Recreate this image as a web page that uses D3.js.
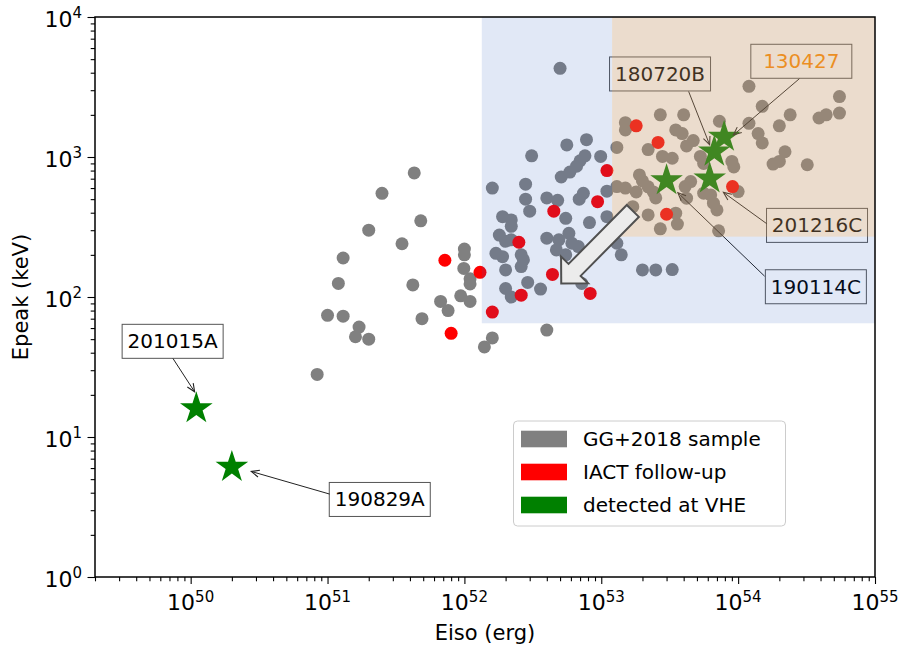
<!DOCTYPE html>
<html><head><meta charset="utf-8">
<script src="https://cdn.jsdelivr.net/npm/d3@7"></script>
<style>body{margin:0;background:#fff} svg{font-family:"DejaVu Sans",sans-serif}</style>
</head><body>
<svg id="c" width="899" height="647"></svg>
<script>
// ---------------- data ----------------
const grayEiso = [
 4.3e51,2.5e51,4.8e51,2.0e51,3.5e51,1.3e51,1.0e52,1.0e52,9.9e51,1.1e52,1.1e52,1.2e51,4.2e51,6.7e51,7.6e51,9.4e51,1.1e52,1.0e51,1.3e51,4.9e51,1.7e51,1.6e51,2.0e51,8.4e50,1.4e52,1.6e52,4.0e52,
 5.0e52,5.6e52,7.8e52,3.1e52,7.6e52,7.0e52,6.6e52,5.9e52,5.1e52,9.9e52,1.6e52,2.8e52,2.8e52,3.0e52,4.0e52,4.8e52,7.4e52,6.9e52,1.1e53,5.5e52,8.2e52,1.1e53,1.9e52,2.2e52,2.2e52,1.8e52,2.0e52,2.2e52,4.0e52,4.9e52,5.8e52,6.1e52,6.8e52,4.7e52,5.5e52,1.3e53,1.4e53,1.7e52,1.9e52,2.6e52,2.7e52,2.6e52,2.0e52,2.9e52,3.6e52,2.0e52,2.2e52,7.2e52,2.0e53,2.5e53,3.3e53,1.3e53,1.5e53,
 1.2e54,5.5e54,1.5e54,2.4e54,3.9e54,4.4e54,5.5e54,2.7e53,4.0e53,7.3e53,1.5e53,1.5e53,3.5e53,3.9e53,4.7e53,4.2e53,1.2e54,1.4e54,1.5e54,2.0e54,2.2e54,1.8e54,2.0e54,3.2e54,1.3e53,2.2e53,2.8e53,3.3e53,9.0e53,9.3e53,1.9e53,2.0e53,2.2e53,2.4e53,2.5e53,1.8e53,4.1e53,4.5e53,4.2e53,6.3e53,6.6e53,7.0e53,1.0e54,3.6e53,2.7e53,7.2e53,2.2e53,1.7e53,3.5e53,5.3e53,5.6e53,5.6e53
];
const grayEpeak = [
 770,550,350,300,240,190,220,200,160,135,124,125,122,93,80,102,93,74,73,70,61,52,50,28,44,51,58,
 4300,1220,1330,1020,1020,940,860,780,720,1010,600,640,500,410,510,490,550,500,570,365,340,375,375,355,320,277,250,256,263,256,285,242,229,217,200,242,200,205,194,200,184,165,156,127,114,115,100,125,156,156,157,615,600,
 3200,2700,2300,2000,1900,2000,2060,2000,2000,1800,1760,1560,1560,1470,1310,1200,1740,1470,1260,1670,1090,890,930,880,1170,1130,1010,980,930,850,745,675,612,563,510,563,615,667,508,536,468,419,566,332,307,297,386,442,397,1010,900,552
];
const redEiso  = [7.2e51,1.3e52,8.0e51,1.6e52,4.5e52,9.4e52,1.1e53,2.5e52,4.4e52,2.6e52,8.3e52,1.8e53,2.6e53,9.1e53,3.0e53];
const redEpeak = [183,150,55,78,410,480,800,246,145,103,106,1670,1270,615,390];
const vheNames = ["201015A","190829A","180720B","130427","201216C","190114C"];
const vheEiso  = [1.1e50,2.0e50,6.7e53,7.9e53,6.2e53,3.0e53];
const vheEpeak = [16,6.1,1090,1390,700,680];

const xDomain = [2e49, 1e55];
const yDomain = [1, 1e4];
const xTickValues = [1e50,1e51,1e52,1e53,1e54,1e55];
const xTickExps = ["50","51","52","53","54","55"];
const yTickValues = [1,10,100,1000,10000];
const yTickExps = ["0","1","2","3","4"];
const legendLabels = ["GG+2018 sample","IACT follow-up","detected at VHE"];
const legendColors = ["#808080","#ff0000","#008000"];
// shaded regions (lower-left corners; extend to axes limits)
const blueRegion = {eiso:1.34e52, epeak:65};
const orangeRegion = {eiso:1.2e53, epeak:270};
// big arrow from / to (data coords)
const bigArrow = {from:[1.7e53,412], to:[5.1e52,125]};

// annotation layout (pixel offsets from the marked star)
const annotations = {
 "201015A":{box:[-23.7,-67.1], from:[-23.4,-50], to:[-1.7,-16.6], color:"#000"},
 "190829A":{box:[147.9,32.4], from:[97.7,27], to:[19.4,4.4], color:"#000"},
 "180720B":{box:[-54.3,-77.8], from:[-25.7,-60.3], to:[-4.7,-7], color:"#000"},
 "130427": {box:[77.2,-75.7], from:[75.3,-58.3], to:[9.3,-2], color:"darkorange"},
 "201216C":{box:[107.3,46.7], from:[57,45], to:[13.7,13.7], color:"#000"},
 "190114C":{box:[149.3,106.3], from:[98,95.7], to:[11.3,12.3], color:"#000"}
};

// ---------------- chart ----------------
const L=95, R=875, T=17, B=577;
const svg = d3.select("#c");
const x = d3.scaleLog().domain(xDomain).range([L,R]);
const y = d3.scaleLog().domain(yDomain).range([B,T]);

const gray = grayEiso.map((e,i)=>({e, p:grayEpeak[i]}));
const red = redEiso.map((e,i)=>({e, p:redEpeak[i]}));
const vhe = vheNames.map((n,i)=>({n, e:vheEiso[i], p:vheEpeak[i]}));

const plot = svg.append("g");
plot.selectAll("circle.g").data(gray).join("circle").attr("class","g")
  .attr("cx",d=>x(d.e)).attr("cy",d=>y(d.p)).attr("r",6.5).attr("fill","#808080");
plot.selectAll("circle.r").data(red).join("circle").attr("class","r")
  .attr("cx",d=>x(d.e)).attr("cy",d=>y(d.p)).attr("r",6.5).attr("fill","#ff0000");

const star = d3.symbol().type(d3.symbolStar).size(330);
plot.selectAll("path.s").data(vhe).join("path").attr("class","s")
  .attr("d",star).attr("transform",d=>`translate(${x(d.e)},${y(d.p)})`)
  .attr("fill","#008000");

// annotations
const ann = plot.append("g");
vhe.forEach(d=>{
  const a = annotations[d.n]; const sx=x(d.e), sy=y(d.p);
  const bx=sx+a.box[0], by=sy+a.box[1];
  const fx=sx+a.from[0], fy=sy+a.from[1], tx=sx+a.to[0], ty=sy+a.to[1];
  ann.append("rect").attr("x",bx-50.5).attr("y",by-17).attr("width",101).attr("height",34)
    .attr("fill","#fff").attr("stroke","#555").attr("stroke-width",1);
  ann.append("text").attr("x",bx).attr("y",by+7).attr("text-anchor","middle")
    .attr("font-size",20).attr("fill",a.color).text(d.n);
  const dx=tx-fx, dy=ty-fy, len=Math.hypot(dx,dy), ux=dx/len, uy=dy/len;
  ann.append("line").attr("x1",fx).attr("y1",fy).attr("x2",tx).attr("y2",ty)
    .attr("stroke","#222").attr("stroke-width",1);
  const hx=tx-ux*8, hy=ty-uy*8;
  ann.append("path").attr("d",`M${hx-uy*3.5},${hy+ux*3.5}L${tx},${ty}L${hx+uy*3.5},${hy-ux*3.5}`)
    .attr("fill","none").attr("stroke","#222").attr("stroke-width",1.1);
});

// shaded regions on top
const bx0=x(blueRegion.eiso), by0=y(blueRegion.epeak), ox0=x(orangeRegion.eiso), oy0=y(orangeRegion.epeak);
svg.append("path").attr("d",`M${bx0},${T}L${ox0},${T}L${ox0},${oy0}L${R},${oy0}L${R},${by0}L${bx0},${by0}Z`)
  .attr("fill","rgb(40,90,190)").attr("fill-opacity",0.14);
svg.append("rect").attr("x",ox0).attr("y",T).attr("width",R-ox0).attr("height",oy0-T)
  .attr("fill","rgb(195,149,104)").attr("fill-opacity",0.33);

// big arrow
{
  const P0=[x(bigArrow.from[0]),y(bigArrow.from[1])], P1=[x(bigArrow.to[0]),y(bigArrow.to[1])];
  const dx=P1[0]-P0[0], dy=P1[1]-P0[1], len=Math.hypot(dx,dy), ux=dx/len, uy=dy/len, nx=-uy, ny=ux;
  const hw=8.5, HW=19, HL=19; const Bx=P1[0]-ux*HL, By=P1[1]-uy*HL;
  const pts=[[P0[0]+nx*hw,P0[1]+ny*hw],[Bx+nx*hw,By+ny*hw],[Bx+nx*HW,By+ny*HW],P1,
             [Bx-nx*HW,By-ny*HW],[Bx-nx*hw,By-ny*hw],[P0[0]-nx*hw,P0[1]-ny*hw]];
  svg.append("path").attr("d","M"+pts.map(p=>p.join(",")).join("L")+"Z")
    .attr("fill","#ececec").attr("stroke","#505050").attr("stroke-width",2).attr("stroke-linejoin","miter");
}

// axes
const isPow = v => Math.abs(Math.log10(v)-Math.round(Math.log10(v)))<1e-9;
const xMinor = x.ticks().filter(v=>!isPow(v));
const yMinor = y.ticks().filter(v=>!isPow(v));
function styleAxis(g){ g.select(".domain").remove(); g.selectAll("line").attr("stroke","#000").attr("stroke-width",1.1); }
svg.append("g").attr("transform",`translate(0,${B})`).call(d3.axisBottom(x).tickValues(xMinor).tickSize(4.3).tickFormat("")).call(styleAxis);
svg.append("g").attr("transform",`translate(0,${B})`).call(d3.axisBottom(x).tickValues(xTickValues).tickSize(7).tickFormat("")).call(styleAxis);
svg.append("g").attr("transform",`translate(${L},0)`).call(d3.axisLeft(y).tickValues(yMinor).tickSize(4.3).tickFormat("")).call(styleAxis);
svg.append("g").attr("transform",`translate(${L},0)`).call(d3.axisLeft(y).tickValues(yTickValues).tickSize(7.5).tickFormat("")).call(styleAxis);

svg.append("rect").attr("x",L).attr("y",T).attr("width",R-L).attr("height",B-T)
  .attr("fill","none").attr("stroke","#000").attr("stroke-width",1.5);

const xl = svg.append("g").selectAll("text").data(xTickValues).join("text")
  .attr("x",d=>x(d)).attr("y",609.5).attr("text-anchor","middle").attr("font-size",22).attr("fill","#000");
xl.append("tspan").text("10");
xl.append("tspan").attr("dy",-8).attr("font-size",15).text((d,i)=>xTickExps[i]);

const yl = svg.append("g").selectAll("text").data(yTickValues).join("text")
  .attr("x",82).attr("y",d=>y(d)+9.5).attr("text-anchor","end").attr("font-size",22).attr("fill","#000");
yl.append("tspan").text("10");
yl.append("tspan").attr("dy",-8.5).attr("font-size",15).text((d,i)=>yTickExps[i]);

svg.append("text").attr("x",(L+R)/2).attr("y",640).attr("text-anchor","middle").attr("font-size",21).text("Eiso (erg)");
svg.append("text").attr("transform",`translate(28,${(T+B)/2}) rotate(-90)`).attr("text-anchor","middle").attr("font-size",21).text("Epeak (keV)");

// legend
const lg = svg.append("g");
lg.append("rect").attr("x",513.5).attr("y",421).attr("width",272).attr("height",105).attr("rx",4)
  .attr("fill","#fff").attr("fill-opacity",0.8).attr("stroke","#cccccc").attr("stroke-width",1);
legendLabels.forEach((t,i)=>{
  const cy = 439 + i*33;
  lg.append("rect").attr("x",521).attr("y",cy-8.3).attr("width",46).attr("height",16.6).attr("fill",legendColors[i]);
  lg.append("text").attr("x",583).attr("y",cy+7).attr("font-size",20).attr("fill","#000").text(t);
});
</script>
</body></html>
